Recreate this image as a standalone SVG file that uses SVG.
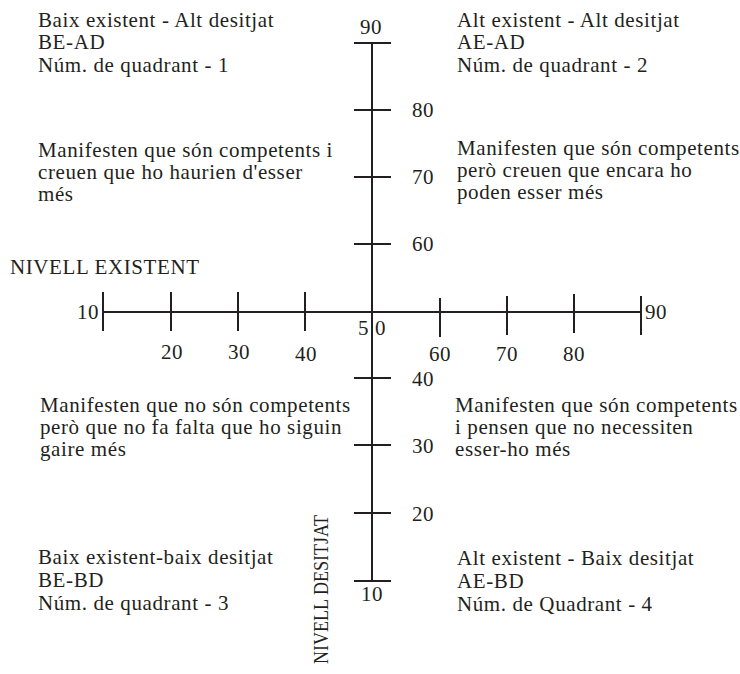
<svg xmlns="http://www.w3.org/2000/svg" width="740" height="674" viewBox="0 0 740 674">
<style>
text{font-family:"Liberation Serif","Times New Roman",serif;font-size:21px;letter-spacing:0.6px;fill:#231f20}
.ax{stroke:#231f20;stroke-width:2;fill:none}
</style>
<rect width="740" height="674" fill="#fff"/>
<g id="connectors">
<line class="ax" x1="372" y1="43" x2="372" y2="581"/>
<line class="ax" x1="103" y1="312" x2="641" y2="312"/>
<path class="ax" d="M354 43H391M354 110H391M354 177H391M354 244H391M354 378H391M354 445H391M354 513H391M354 581H391"/>
<path class="ax" d="M103 292V331M171 292V331M238 292V331M305 292V331M440 298V337M507 296V335M574 294V333M641 296V335"/>
</g>
<g id="axis-labels">
<text x="360" y="34">90</text>
<text x="412" y="117">80</text>
<text x="412" y="184">70</text>
<text x="412" y="251">60</text>
<text x="412" y="386">40</text>
<text x="412" y="453">30</text>
<text x="412" y="521">20</text>
<text x="361" y="601">10</text>
<text x="77" y="319">10</text>
<text x="645" y="319">90</text>
<text x="161" y="359">20</text>
<text x="228" y="359">30</text>
<text x="295" y="361">40</text>
<text x="358" y="335">5</text>
<text x="375" y="335">0</text>
<text x="429" y="361">60</text>
<text x="496" y="361">70</text>
<text x="563" y="361">80</text>
</g>
<g id="nivell-existent"><text x="10" y="274">NIVELL EXISTENT</text></g>
<g id="nivell-desitjat"><text transform="translate(328,664) rotate(-90)" textLength="149" lengthAdjust="spacingAndGlyphs" style="letter-spacing:0">NIVELL DESITJAT</text></g>
<g id="q1">
<text x="38" y="27">Baix existent - Alt desitjat</text>
<text x="38" y="49">BE-AD</text>
<text x="38" y="72">Núm. de quadrant - 1</text>
</g>
<g id="q2">
<text x="457" y="27">Alt existent - Alt desitjat</text>
<text x="457" y="49">AE-AD</text>
<text x="457" y="72">Núm. de quadrant - 2</text>
</g>
<g id="q1-desc">
<text x="38" y="157">Manifesten que són competents i</text>
<text x="38" y="179">creuen que ho haurien d'esser</text>
<text x="38" y="201">més</text>
</g>
<g id="q2-desc">
<text x="457" y="155">Manifesten que són competents</text>
<text x="457" y="177">però creuen que encara ho</text>
<text x="457" y="199">poden esser més</text>
</g>
<g id="q3-desc">
<text x="40" y="412">Manifesten que no són competents</text>
<text x="40" y="434">però que no fa falta que ho siguin</text>
<text x="40" y="456">gaire més</text>
</g>
<g id="q4-desc">
<text x="455" y="412">Manifesten que són competents</text>
<text x="455" y="434">i pensen que no necessiten</text>
<text x="455" y="456">esser-ho més</text>
</g>
<g id="q3">
<text x="38" y="564">Baix existent-baix desitjat</text>
<text x="38" y="587">BE-BD</text>
<text x="38" y="610">Núm. de quadrant - 3</text>
</g>
<g id="q4">
<text x="457" y="565">Alt existent - Baix desitjat</text>
<text x="457" y="588">AE-BD</text>
<text x="457" y="611">Núm. de Quadrant - 4</text>
</g>
</svg>
